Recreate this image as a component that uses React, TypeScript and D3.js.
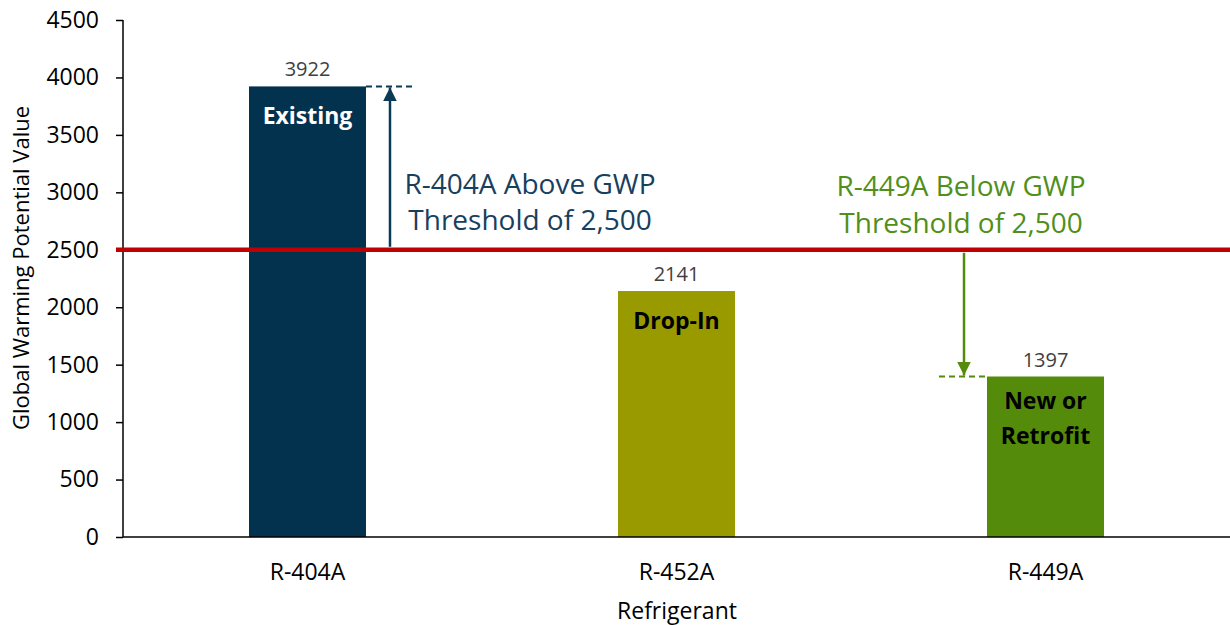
import React, { useEffect, useRef } from 'react';
import * as d3 from 'd3';

const refrigerants = ['R-404A', 'R-452A', 'R-449A'];
const gwpValues = [3922, 2141, 1397];
const barTags = [['Existing'], ['Drop-In'], ['New or', 'Retrofit']];
const barColors = ['#03324F', '#999900', '#548B0A'];
const tagColors = ['#FFFFFF', '#000000', '#000000'];
const yTicks = [0, 500, 1000, 1500, 2000, 2500, 3000, 3500, 4000, 4500];
const threshold = 2500;

const App = () => {
  const svgRef = useRef(null);

  useEffect(() => {
    document.body.style.margin = '0';
    const width = 1230;
    const height = 625;
    const left = 123;
    const top = 20;
    const bottom = 537;
    const font = '"Open Sans", sans-serif';

    const svg = d3.select(svgRef.current)
      .attr('width', width)
      .attr('height', height)
      .style('font-family', font);
    svg.selectAll('*').remove();

    const x = d3.scaleBand()
      .domain(refrigerants)
      .range([left, width])
      .paddingInner(0.683)
      .paddingOuter(0.683 / 2);

    const y = d3.scaleLinear().domain([0, 4500]).range([bottom, top]);

    // bars
    const data = refrigerants.map((r, i) => ({ r, v: gwpValues[i], i }));
    svg.selectAll('rect.bar')
      .data(data)
      .enter()
      .append('rect')
      .attr('class', 'bar')
      .attr('x', d => x(d.r))
      .attr('y', d => y(d.v))
      .attr('width', x.bandwidth())
      .attr('height', d => y(0) - y(d.v))
      .attr('fill', d => barColors[d.i]);

    // value labels
    svg.selectAll('text.val')
      .data(data)
      .enter()
      .append('text')
      .attr('x', d => x(d.r) + x.bandwidth() / 2)
      .attr('y', d => y(d.v) - 10)
      .attr('text-anchor', 'middle')
      .attr('fill', '#404040')
      .style('font-size', '20px')
      .text(d => d.v);

    // tags inside bars
    data.forEach(d => {
      const lines = barTags[d.i];
      const first = lines.length > 1 ? 32 : 38;
      lines.forEach((t, k) => {
        svg.append('text')
          .attr('x', x(d.r) + x.bandwidth() / 2)
          .attr('y', y(d.v) + first + k * 35)
          .attr('text-anchor', 'middle')
          .attr('fill', tagColors[d.i])
          .style('font-size', '23px')
          .style('font-weight', 'bold')
          .text(t);
      });
    });

    // y axis
    const yAxis = svg.append('g')
      .attr('transform', `translate(${left},0)`)
      .call(d3.axisLeft(y).tickValues(yTicks).tickFormat(d3.format('d')).tickSize(7).tickPadding(17));
    yAxis.selectAll('text').style('font-size', '23px').style('font-family', font).attr('fill', '#000');
    yAxis.selectAll('line').attr('stroke', '#000').attr('stroke-width', 1.5);
    yAxis.select('.domain').attr('stroke', '#000').attr('stroke-width', 1.5).attr('d', `M0,${top}V${bottom}`);

    // x axis
    svg.append('line')
      .attr('x1', left).attr('x2', width)
      .attr('y1', bottom).attr('y2', bottom)
      .attr('stroke', '#000').attr('stroke-width', 1.5);

    svg.selectAll('text.xl')
      .data(refrigerants)
      .enter()
      .append('text')
      .attr('x', d => x(d) + x.bandwidth() / 2)
      .attr('y', 580)
      .attr('text-anchor', 'middle')
      .style('font-size', '23px')
      .text(d => d);

    svg.append('text')
      .attr('x', 677)
      .attr('y', 619)
      .attr('text-anchor', 'middle')
      .style('font-size', '23px')
      .text('Refrigerant');

    svg.append('text')
      .attr('transform', `translate(29,268) rotate(-90)`)
      .attr('text-anchor', 'middle')
      .style('font-size', '22px')
      .text('Global Warming Potential Value');

    // threshold line
    svg.append('line')
      .attr('x1', left - 7).attr('x2', width)
      .attr('y1', y(threshold)).attr('y2', y(threshold))
      .attr('stroke', '#C00000').attr('stroke-width', 4.5);

    const defs = svg.append('defs');
    const marker = (id, color) => defs.append('marker')
      .attr('id', id)
      .attr('viewBox', '0 0 10 10')
      .attr('refX', 10).attr('refY', 5)
      .attr('markerWidth', 5.5).attr('markerHeight', 5.5)
      .attr('orient', 'auto')
      .append('path').attr('d', 'M0,0L10,5L0,10Z').attr('fill', color);
    marker('arrNavy', '#0B3A55');
    marker('arrGreen', '#548B0A');

    // R-404A annotation
    const navy = '#0B3A55';
    const b0 = x(refrigerants[0]) + x.bandwidth();
    svg.append('line')
      .attr('x1', b0).attr('x2', b0 + 46)
      .attr('y1', y(gwpValues[0])).attr('y2', y(gwpValues[0]))
      .attr('stroke', navy).attr('stroke-width', 2).attr('stroke-dasharray', '6,4');
    svg.append('line')
      .attr('x1', b0 + 24).attr('x2', b0 + 24)
      .attr('y1', y(threshold) - 3).attr('y2', y(gwpValues[0]) + 1)
      .attr('stroke', navy).attr('stroke-width', 2.5)
      .attr('marker-end', 'url(#arrNavy)');
    ['R-404A Above GWP', 'Threshold of 2,500'].forEach((t, k) => {
      svg.append('text')
        .attr('x', 530).attr('y', 194 + k * 36)
        .attr('text-anchor', 'middle')
        .attr('fill', '#17405E')
        .style('font-size', '28px')
        .text(t);
    });

    // R-449A annotation
    const green = '#548B0A';
    const b2 = x(refrigerants[2]);
    svg.append('line')
      .attr('x1', b2 - 48).attr('x2', b2)
      .attr('y1', y(gwpValues[2])).attr('y2', y(gwpValues[2]))
      .attr('stroke', green).attr('stroke-width', 2).attr('stroke-dasharray', '6,4');
    svg.append('line')
      .attr('x1', b2 - 23).attr('x2', b2 - 23)
      .attr('y1', y(threshold) + 3).attr('y2', y(gwpValues[2]) - 1)
      .attr('stroke', green).attr('stroke-width', 2.5)
      .attr('marker-end', 'url(#arrGreen)');
    ['R-449A Below GWP', 'Threshold of 2,500'].forEach((t, k) => {
      svg.append('text')
        .attr('x', 961).attr('y', 196 + k * 37)
        .attr('text-anchor', 'middle')
        .attr('fill', '#4F8F1A')
        .style('font-size', '28px')
        .text(t);
    });
  }, []);

  return <svg ref={svgRef}></svg>;
};

export default App;
